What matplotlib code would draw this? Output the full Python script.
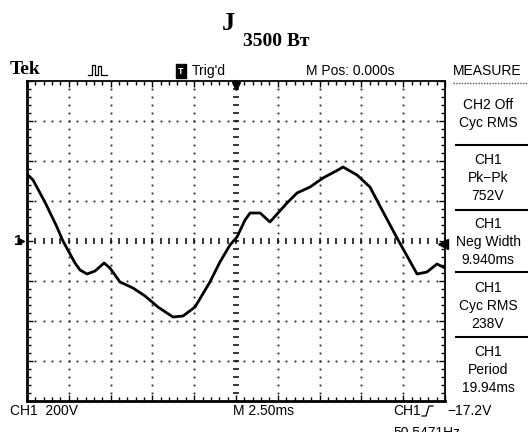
import matplotlib
matplotlib.use("Agg")
import matplotlib.pyplot as plt
from matplotlib.lines import Line2D
from matplotlib.ticker import MultipleLocator

# ================= data =================
# CH1 trace, time relative to trigger (ms) and voltage (V)
TIME_MS = [-12.50, -12.14, -11.40, -10.71, -10.35, -9.63, -9.33, -8.91, -8.43,
           -7.89, -7.54, -6.94, -6.16, -5.44, -4.67, -3.77, -3.17, -2.45,
           -1.56, -0.96, -0.36, 0.06, 0.54, 0.84, 1.44, 2.03, 3.05, 3.65,
           4.43, 5.20, 6.10, 6.40, 7.24, 8.01, 8.61, 9.63, 10.83, 11.42,
           12.02, 12.50]
CH1_V = [335, 305, 190, 70, 0, -110, -145, -165, -150,
         -110, -135, -205, -235, -275, -330, -380, -375, -330,
         -205, -105, -20, 20, 105, 140, 140, 95, 190, 240,
         270, 315, 355, 370, 330, 270, 175, 15, -165, -155,
         -115, -135]

VOLTS_PER_DIV = 200
MS_PER_DIV = 2.5
TRIG_LEVEL_V = -17.2

MEAS_SOURCE = ["CH2 Off", "CH1", "CH1", "CH1", "CH1"]
MEAS_NAME = ["Cyc RMS", "Pk\u2212Pk", "Neg Width", "Cyc RMS", "Period"]
MEAS_VALUE = ["", "752V", "9.940ms", "238V", "19.94ms"]

W, H = 528, 432
SCOPE_FONT = ["Liberation Sans Narrow", "Liberation Sans", "DejaVu Sans"]


def px(x, y):
    # pixel position -> figure fraction
    return x / W, 1 - y / H


fig = plt.figure(figsize=(W / 100, H / 100), dpi=100)
fig.patch.set_facecolor("white")

# screen area
l, b = px(27, 401)
r, t = px(445, 81)
ax = fig.add_axes([l, b, r - l, t - b])
xmax = 5 * MS_PER_DIV
ymax = 4 * VOLTS_PER_DIV
ax.set_xlim(-xmax, xmax)
ax.set_ylim(-ymax, ymax)

# dotted graticule
sub_x = MS_PER_DIV / 5
sub_y = VOLTS_PER_DIV / 5
xs_sub = [-xmax + i * sub_x for i in range(51)]
ys_sub = [-ymax + i * sub_y for i in range(41)]
for k in range(-4, 5):
    if k == 0:
        continue
    xg = k * MS_PER_DIV
    ax.plot([xg] * len(ys_sub), ys_sub, ls="none", marker="s", ms=1.3,
            color="#222222", mew=0)
for k in range(-3, 4):
    if k == 0:
        continue
    yg = k * VOLTS_PER_DIV
    ax.plot(xs_sub, [yg] * len(xs_sub), ls="none", marker="s", ms=1.3,
            color="#222222", mew=0)

# centre crosshair with short tick marks
ax.plot(xs_sub, [0] * len(xs_sub), ls="none", marker="|", ms=4, mew=1.1,
        color="black")
ax.plot([0] * len(ys_sub), ys_sub, ls="none", marker="_", ms=5, mew=1.1,
        color="black")

# CH1 waveform
ax.plot(TIME_MS, CH1_V, color="black", lw=2.0, solid_joinstyle="round",
        zorder=5)

# markers: trigger position, trigger level, channel ground
ax.plot([0], [ymax - 0.12 * VOLTS_PER_DIV], marker="v", ms=6, color="black",
        clip_on=False, zorder=6)
ax.plot([0, 0], [ymax - 0.1 * VOLTS_PER_DIV, ymax], color="black", lw=1.5,
        clip_on=False)
ax.plot([xmax - 0.1], [TRIG_LEVEL_V], marker="<", ms=7, color="black",
        clip_on=False, zorder=6)
ax.plot([-xmax - 0.35], [0], marker=">", ms=4, color="black", clip_on=False)

# border ticks
ax.xaxis.set_major_locator(MultipleLocator(MS_PER_DIV))
ax.xaxis.set_minor_locator(MultipleLocator(sub_x))
ax.yaxis.set_major_locator(MultipleLocator(VOLTS_PER_DIV))
ax.yaxis.set_minor_locator(MultipleLocator(sub_y))
ax.tick_params(which="both", direction="in", top=True, right=True,
               labelbottom=False, labelleft=False, width=1.0, color="black")
ax.tick_params(which="major", length=4)
ax.tick_params(which="minor", length=3)
for side, sp in ax.spines.items():
    sp.set_linewidth(2.0 if side in ("left", "bottom") else 1.3)

# ================= text around the screen =================
fig.text(*px(222, 23), "J", family="Liberation Serif", weight="bold",
         fontsize=19, va="center", ha="left")
fig.text(*px(243, 42), "3500 \u0412\u0442", family="Liberation Serif",
         weight="bold", fontsize=14, va="center", ha="left")

fig.text(*px(10, 70), "Tek", family="Liberation Serif", weight="bold",
         fontsize=14, va="center", ha="left")
fig.add_artist(Line2D([px(88, 0)[0], px(92, 0)[0], px(92, 0)[0], px(95, 0)[0],
                       px(95, 0)[0], px(98, 0)[0], px(98, 0)[0], px(101, 0)[0],
                       px(101, 0)[0], px(107, 0)[0]],
                      [px(0, 75)[1], px(0, 75)[1], px(0, 65)[1], px(0, 65)[1],
                       px(0, 75)[1], px(0, 75)[1], px(0, 66)[1], px(0, 66)[1],
                       px(0, 75)[1], px(0, 75)[1]],
                      transform=fig.transFigure, color="black", lw=0.9))
fig.text(*px(181, 71), "T", family=SCOPE_FONT, fontsize=6.5, color="white",
         weight="bold", va="center", ha="center",
         bbox=dict(boxstyle="square,pad=0.25", fc="black", ec="black"))
fig.text(*px(192, 71), "Trig'd", family=SCOPE_FONT, fontsize=10,
         va="center", ha="left")
fig.text(*px(306, 71), "M Pos: 0.000s", family=SCOPE_FONT, fontsize=10,
         va="center", ha="left")
fig.text(*px(453, 71), "MEASURE", family=SCOPE_FONT, fontsize=10,
         va="center", ha="left")
fig.add_artist(Line2D([px(453, 0)[0], 1], [px(0, 83)[1]] * 2,
                      transform=fig.transFigure, color="#555555", lw=1.0,
                      ls=(0, (1, 1))))

# measurement panel
box_top = [105, 160, 224, 288, 352]
for i, (src, name, val) in enumerate(zip(MEAS_SOURCE, MEAS_NAME, MEAS_VALUE)):
    y0 = box_top[i]
    for j, s in enumerate([src, name, val]):
        if s:
            fig.text(*px(488, y0 + j * 18), s, family=SCOPE_FONT, fontsize=10,
                     va="center", ha="center")
for ysep in [145, 210, 272, 337]:
    fig.add_artist(Line2D([px(456, 0)[0], 1], [px(0, ysep)[1]] * 2,
                          transform=fig.transFigure, color="black", lw=1.5))

# bottom status line
fig.text(*px(10, 411), "CH1  %dV" % VOLTS_PER_DIV, family=SCOPE_FONT,
         fontsize=10, va="center", ha="left")
fig.text(*px(233, 411), "M %.2fms" % MS_PER_DIV, family=SCOPE_FONT,
         fontsize=10, va="center", ha="left")
fig.text(*px(393, 411), "CH1", family=SCOPE_FONT, fontsize=10,
         va="center", ha="left")
fig.add_artist(Line2D([px(422, 0)[0], px(426, 0)[0], px(429, 0)[0],
                       px(433, 0)[0]],
                      [px(0, 416)[1], px(0, 416)[1], px(0, 406)[1],
                       px(0, 406)[1]],
                      transform=fig.transFigure, color="black", lw=0.9))
fig.text(*px(447, 411), "\u2212%.1fV" % abs(TRIG_LEVEL_V), family=SCOPE_FONT,
         fontsize=10, va="center", ha="left")
fig.text(*px(393, 433), "50.5471Hz", family=SCOPE_FONT, fontsize=10,
         va="center", ha="left")

fig.text(*px(18, 241), "1", family=SCOPE_FONT, fontsize=11, weight="bold",
         va="center", ha="center")

fig.savefig("out.png", dpi=100)
